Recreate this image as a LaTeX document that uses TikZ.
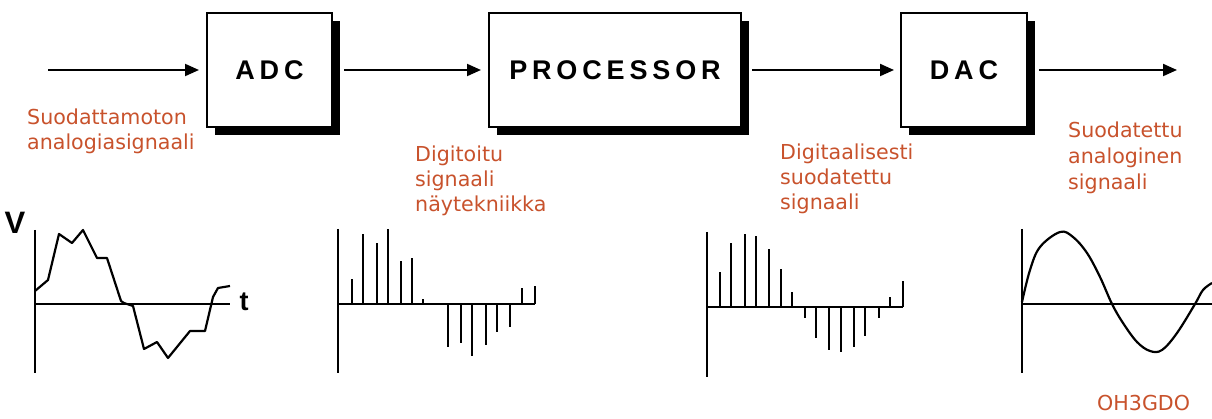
\documentclass[tikz,border=0pt]{standalone}
\usepackage{fontspec}
\setmainfont{DejaVu Sans}
\newfontfamily\boxfont[LetterSpace=18]{Liberation Sans Bold}
\newfontfamily\axfont{Liberation Sans Bold}
\usetikzlibrary{arrows.meta,shadows}
\definecolor{lbl}{RGB}{200,82,44}
\tikzset{
  blockbox/.style={draw=black, line width=2pt, fill=white, inner sep=0pt,
    font=\boxfont\fontsize{27}{30}\selectfont,
    drop shadow={shadow xshift=8pt, shadow yshift=-8pt, fill=black, opacity=1}},
  arr/.style={line width=2pt, -{Triangle[length=14pt,width=12pt]}},
  lab/.style={text=lbl, anchor=base west, inner sep=0pt, font=\fontsize{20.6}{25}\selectfont},
  axis/.style={line width=2.6pt},
  stem/.style={line width=2.6pt},
  wave/.style={line width=2.2pt, line join=round},
  axlab/.style={inner sep=0pt, font=\axfont\fontsize{31}{34}\selectfont}
}
\begin{document}
\begin{tikzpicture}[x=1pt,y=-1pt]
\useasboundingbox (0,0) rectangle (1212,419);

% blocks
\node[blockbox, minimum width=125pt, minimum height=114pt] (adc) at (269.5,70) {ADC};
\node[blockbox, minimum width=252pt, minimum height=114pt] (proc) at (615,70) {PROCESSOR};
\node[blockbox, minimum width=126pt, minimum height=114pt] (dac) at (964,70) {DAC};

% connectors
\coordinate (in) at (48,70);
\coordinate (out) at (1177,70);
\draw[arr, shorten >=7pt] (in) -- (adc);
\draw[arr, shorten <=11pt, shorten >=7pt] (adc) -- (proc);
\draw[arr, shorten <=10pt, shorten >=6pt] (proc) -- (dac);
\draw[arr, shorten <=11pt] (dac) -- (out);

% labels
\node[lab] (l1a) at (27,125) {Suodattamoton};
\node[lab] (l1b) at (27,150) {analogiasignaali};
\node[lab] (l2a) at (415,162) {Digitoitu};
\node[lab] (l2b) at (415,187) {signaali};
\node[lab] (l2c) at (415,212) {näytekniikka};
\node[lab] (l3a) at (780,160) {Digitaalisesti};
\node[lab] (l3b) at (780,185) {suodatettu};
\node[lab] (l3c) at (780,210) {signaali};
\node[lab] (l4a) at (1068,138) {Suodatettu};
\node[lab] (l4b) at (1068,164) {analoginen};
\node[lab] (l4c) at (1068,190) {signaali};
\node[lab] (sig) at (1097,410) {OH3GDO};

% plot 1: noisy analog signal
\draw[axis] (35,230) -- (35,373);
\draw[axis] (35,304) -- (230,304);
\node[axlab] (vlab) at (15,223) {V};
\node[axlab, font=\axfont\fontsize{27}{30}\selectfont] (tlab) at (244,302) {t};
\draw[wave] (35,291) -- (48,280) -- (59,234) -- (72,243) -- (83,230) -- (97,258)
  -- (107,258) -- (121,301) -- (124,303) -- (133,306) -- (144,349) -- (157,342)
  -- (168,358) -- (190,331) -- (205,331) -- (213,297) -- (218,288) -- (230,286);

% plot 2: sampled signal
\draw[axis] (338,229) -- (338,373);
\draw[axis] (338,304) -- (535,304);
\foreach \x/\y in {352/279,363/234,377/243,388/229,401/261,412/258,423/299,
                   448/347,461/343,472/356,486/345,497/332,510/327,522/288,535/286}
  \draw[stem] (\x,304) -- (\x,\y);

% plot 3: digitally filtered signal
\draw[axis] (707,232) -- (707,377);
\draw[axis] (707,307) -- (903,307);
\foreach \x/\y in {720/272,731/243,745/234,756/236,769/249,781/269,792/292,
                   805/318,816/338,829/350,841/352,854/347,865/336,879/318,890/297,903/281}
  \draw[stem] (\x,307) -- (\x,\y);

% plot 4: filtered analog signal
\draw[axis] (1022,229) -- (1022,373);
\draw[axis] (1022,304) -- (1212,304);
\draw[wave] plot[smooth, tension=0.6] coordinates {(1022,302) (1030,270) (1040,247)
  (1060,232) (1073,237) (1087,253) (1100,277) (1112,304) (1123,323) (1137,342)
  (1150,351) (1162,350) (1177,333) (1195,304) (1203,290) (1212,283)};
\end{tikzpicture}
\end{document}
